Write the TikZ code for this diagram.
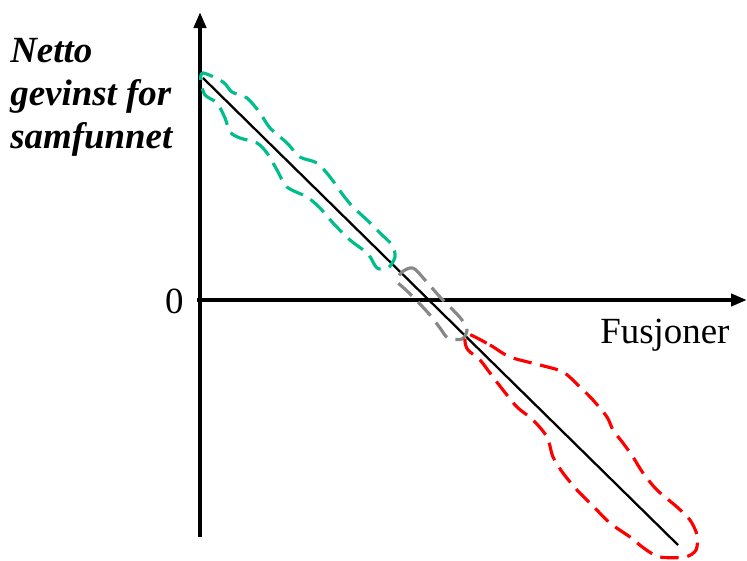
\documentclass[tikz,border=0pt]{standalone}
\usepackage{fontspec}
\setmainfont{Liberation Serif}
\usetikzlibrary{arrows.meta}
\definecolor{loopgreen}{RGB}{0,190,140}
\definecolor{loopgray}{RGB}{135,135,135}

\begin{document}
\begin{tikzpicture}[x=0.02cm, y=-0.02cm,
    axis/.style={line width=4pt*0.6, -{Triangle[length=16*0.02cm, width=12*0.02cm]}},
    lbl/.style={font=\fontsize{21}{24.5}\selectfont, inner sep=0pt},
    region/.style={dashed, line width=1.8pt, dash pattern=on 10.5pt off 5pt}]
    \useasboundingbox (0,0) rectangle (747,561);

    % Axes
    \coordinate (yb) at (200,537);
    \coordinate (yt) at (200,12);
    \coordinate (xa) at (197,300);
    \coordinate (xb) at (747,300);
    \draw[axis] (yb) -- (yt);
    \draw[axis] (xa) -- (xb);

    % Labels
    \node[lbl, anchor=north west, align=left, font=\fontsize{21}{24.5}\selectfont\bfseries\itshape] (ylab) at (10,38) {Netto\\gevinst for\\samfunnet};
    \node[lbl, anchor=east] (zero) at (184,301) {0};
    \node[lbl, anchor=base west] (xlab) at (600,343) {Fusjoner};

    % Net gain line
    \coordinate (l1) at (203,78);
    \coordinate (l2) at (678,545);
    \draw[line width=1.3pt] (l1) -- (l2);

    % Gain region
    \draw[region, loopgreen] plot[smooth cycle, tension=0.5] coordinates {
        (203,73) (223,82) (232,92) (247,98) (260,113) (270,128) (287,143)
        (300,157) (317,163) (330,177) (343,195) (353,207) (367,220) (380,233)
        (392,245) (395,257) (388,268) (377,268) (368,254) (350,240) (333,223)
        (320,208) (307,197) (287,187) (277,170) (267,153) (257,143) (240,138)
        (230,132) (225,118) (217,103) (205,95) (201,82)};

    % Neutral region
    \draw[region, loopgray] plot[smooth cycle, tension=0.5] coordinates {
        (402,272) (413,268) (425,280) (440,297) (453,310) (462,320) (467,330)
        (462,339) (448,338) (440,328) (430,315) (418,302) (406,290) (397,281)};

    % Loss region
    \draw[region, red] plot[smooth cycle, tension=0.5] coordinates {
        (468,334) (490,345) (510,357) (540,365) (563,372) (580,387) (593,400)
        (607,417) (613,430) (623,443) (633,457) (643,473) (657,490) (677,507)
        (690,520) (697,535) (696,550) (685,557) (660,557) (645,549) (630,537)
        (610,523) (592,505) (577,490) (563,473) (553,457) (547,437) (533,420)
        (517,407) (503,390) (490,373) (480,360) (468,350) (465,341)};
\end{tikzpicture}
\end{document}
